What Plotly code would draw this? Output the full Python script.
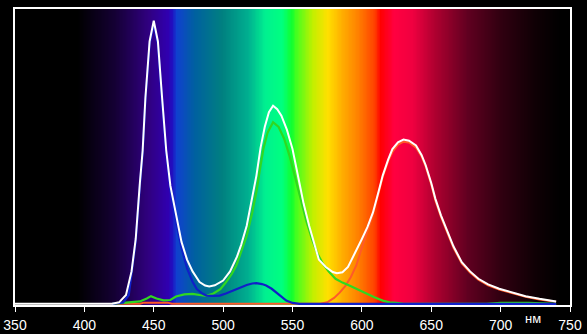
import plotly.graph_objects as go
import numpy as np

# ---- data ----
tick_vals = [350, 400, 450, 500, 550, 600, 650, 700, 750]
tick_text = ["350", "400", "450", "500", "550", "600", "650", "700", "750"]

white_x = [350, 420, 425, 430, 434, 437, 440, 442, 444, 447, 450, 453, 456, 459, 462, 466, 470, 474, 478,
           483, 487, 490, 494, 500, 505, 510, 513, 517, 521, 524, 527, 530, 533, 536, 539, 542, 546, 550,
           555, 558, 562, 566, 569, 574, 579, 582, 586, 590, 593, 600, 604, 608, 612, 615, 619, 622, 626,
           630, 634, 639, 643, 646, 650, 653, 657, 661, 666, 672, 678, 684, 691, 699, 708, 718, 728, 735, 740]
white_y = [0, 0, 0.005, 0.03, 0.11, 0.22, 0.41, 0.52, 0.70, 0.89, 0.96, 0.89, 0.70, 0.52, 0.40, 0.30, 0.21,
           0.15, 0.11, 0.074, 0.062, 0.059, 0.063, 0.079, 0.11, 0.16, 0.20, 0.265, 0.36, 0.435, 0.53, 0.60,
           0.65, 0.672, 0.66, 0.638, 0.59, 0.525, 0.41, 0.34, 0.265, 0.20, 0.15, 0.125, 0.108, 0.104, 0.107,
           0.125, 0.152, 0.22, 0.26, 0.31, 0.38, 0.435, 0.49, 0.525, 0.548, 0.557, 0.553, 0.537, 0.505, 0.47,
           0.41, 0.356, 0.30, 0.254, 0.195, 0.141, 0.11, 0.085, 0.066, 0.051, 0.038, 0.026, 0.017, 0.012, 0.008]

green_x = [420, 430, 440, 445, 448, 452, 457, 462, 466, 472, 478, 483, 488, 493, 498, 502, 506, 509.5, 513,
           517, 521, 524, 527, 529, 532, 536, 540, 544, 548, 552, 556, 560, 564, 568, 572, 576, 581, 586,
           591, 597, 603, 609, 615, 620, 625, 630, 690, 700, 720, 740]
green_y = [0, 0.003, 0.008, 0.018, 0.026, 0.018, 0.012, 0.013, 0.025, 0.032, 0.034, 0.030, 0.027, 0.035,
           0.05, 0.073, 0.10, 0.13, 0.175, 0.23, 0.31, 0.38, 0.47, 0.525, 0.58, 0.616, 0.60, 0.56, 0.50,
           0.43, 0.36, 0.28, 0.22, 0.17, 0.135, 0.11, 0.085, 0.072, 0.062, 0.048, 0.034, 0.022, 0.011,
           0.005, 0.003, 0.0, 0.0, 0.003, 0.003, 0.0]

blue_x = [420, 428, 432, 434, 437, 440, 442, 444, 447, 450, 453, 456, 459, 462, 466, 470, 474, 478, 481,
          485, 488, 493, 497.5, 502, 507, 512, 517, 521, 524, 528, 531, 535, 538, 542, 545.5, 550, 555, 740]
blue_y = [0, 0.005, 0.03, 0.10, 0.21, 0.40, 0.51, 0.69, 0.88, 0.95, 0.88, 0.69, 0.51, 0.39, 0.28, 0.19,
          0.12, 0.075, 0.05, 0.035, 0.028, 0.027, 0.028, 0.035, 0.045, 0.056, 0.064, 0.069, 0.07, 0.067,
          0.062, 0.051, 0.04, 0.024, 0.011, 0.003, 0, 0]

red_x = [420, 440, 443, 460, 463, 570, 575, 580, 584, 588, 592, 596, 600, 604, 608, 612, 615, 619, 622,
         626, 630, 634, 639, 643, 646, 650, 653, 657, 661, 666, 672, 678, 684, 691, 699, 708, 718, 728,
         735, 740]
red_y = [0, 0, 0.004, 0.004, 0, 0, 0.005, 0.02, 0.038, 0.06, 0.09, 0.13, 0.19, 0.25, 0.305, 0.375, 0.43,
         0.485, 0.515, 0.54, 0.55, 0.547, 0.53, 0.50, 0.465, 0.405, 0.35, 0.295, 0.25, 0.19, 0.137, 0.106,
         0.082, 0.063, 0.048, 0.036, 0.024, 0.015, 0.010, 0.007]

# spectrum background colour stops (wavelength, colour)
spec_nm = [350, 395, 422, 446, 460, 463, 466, 479, 499, 518, 530, 542, 549, 552, 564, 575, 585, 597,
           609, 613, 623, 636, 652, 676, 700, 724, 743, 750]
spec_col = ["#000000", "#000000", "#150035", "#300080", "#3000b0", "#2010c0", "#1040d0", "#0060a0",
            "#008080", "#00b090", "#00f090", "#00ff80", "#10ff30", "#40ff20", "#c0f000", "#ffe000",
            "#ffb000", "#ff8000", "#ff4000", "#ff0000", "#ff0040", "#f00040", "#b00030", "#600020",
            "#300010", "#100005", "#000000", "#000000"]

# ---- figure ----
lo, hi = 350, 750
colorscale = [[(w - lo) / (hi - lo), c] for w, c in zip(spec_nm, spec_col)]
hx = np.arange(lo, hi + 1, 1)

fig = go.Figure()
fig.add_trace(go.Heatmap(x=hx, y=[-0.02, 1.02], z=[hx, hx], colorscale=colorscale,
                         zmin=lo, zmax=hi, showscale=False, hoverinfo="skip", zsmooth="best"))

fig.add_trace(go.Scatter(x=red_x, y=red_y, mode="lines", line=dict(color="#ff5a28", width=2)))
fig.add_trace(go.Scatter(x=green_x, y=green_y, mode="lines", line=dict(color="#30d820", width=2.2)))
fig.add_trace(go.Scatter(x=blue_x, y=blue_y, mode="lines", line=dict(color="#1020c8", width=2.2)))
fig.add_trace(go.Scatter(x=white_x, y=white_y, mode="lines", line=dict(color="#ffffff", width=2)))

fig.add_annotation(x=723.5, y=-0.045, xref="x", yref="paper", text="нм", showarrow=False,
                   font=dict(color="white", size=13, family="Liberation Sans, Arial"),
                   xanchor="center", yanchor="middle")

fig.update_layout(
    width=587, height=334,
    margin=dict(l=15, r=17, t=9, b=29, autoexpand=False),
    paper_bgcolor="black", plot_bgcolor="black",
    showlegend=False,
    xaxis=dict(range=[lo, hi], tickvals=tick_vals, ticktext=tick_text, ticks="outside",
               ticklen=5, tickcolor="white", tickwidth=1, showgrid=False, zeroline=False,
               showline=True, linecolor="white", linewidth=1.5, mirror=True, ticklabelstandoff=1,
               automargin=False,
               tickfont=dict(color="white", size=14,
                             family="Liberation Sans Narrow, Liberation Sans, Arial")),
    yaxis=dict(range=[-0.004, 1.0], showticklabels=False, ticks="", showgrid=False, zeroline=False,
               showline=True, linecolor="white", linewidth=1.5, mirror=True, automargin=False),
)

fig.write_html("out.html")
